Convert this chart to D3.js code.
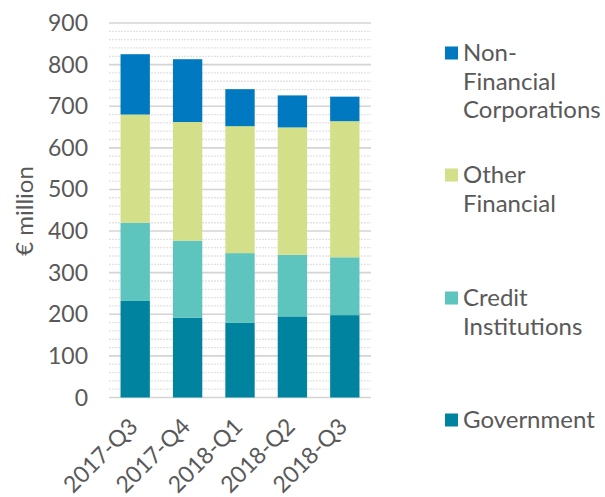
<!DOCTYPE html>
<html><head><meta charset="utf-8">
<script src="https://cdn.jsdelivr.net/npm/d3@7"></script>
<style>body{margin:0;background:#fff}svg{display:block}text{font-family:Lato,"Open Sans",sans-serif;fill:#595959}</style>
</head><body><svg id="c" width="605" height="497"></svg>
<script>
const categories = ["2017-Q3","2017-Q4","2018-Q1","2018-Q2","2018-Q3"];
const government = [232,192,180,195,198];
const creditInstitutions = [188,185,167,148,139];
const otherFinancial = [260,285,305,306,327];
const nonFinancialCorporations = [145,151,89,77,59];
const seriesNames = ["Government","Credit Institutions","Other Financial","Non-Financial Corporations"];
const legendLines = [["Non-","Financial","Corporations"],["Other","Financial"],["Credit","Institutions"],["Government"]];
const colors = ["#00839f","#5ec4be","#d4e089","#0079c1"];
const yTicks = [0,100,200,300,400,500,600,700,800,900];

const svg = d3.select("#c");
const x = d3.scaleBand().domain(categories).range([109,371]).paddingInner(0.44).paddingOuter(0.22);
const y = d3.scaleLinear().domain([0,900]).range([397.5,23]);

const minor = d3.range(0,901,20).filter(v=>v%100!==0);
svg.append("g").selectAll("line").data(minor).join("line")
  .attr("x1",109).attr("x2",371).attr("y1",d=>y(d)).attr("y2",d=>y(d))
  .attr("stroke","#e3e3e3").attr("stroke-width",1.3).attr("stroke-dasharray","2,1");
svg.append("g").selectAll("line").data(yTicks).join("line")
  .attr("x1",109).attr("x2",371).attr("y1",d=>y(d)).attr("y2",d=>y(d))
  .attr("stroke","#d4d4d4").attr("stroke-width",1.6);

const rows = categories.map((c,i)=>({cat:c,"Government":government[i],"Credit Institutions":creditInstitutions[i],"Other Financial":otherFinancial[i],"Non-Financial Corporations":nonFinancialCorporations[i]}));
const stacked = d3.stack().keys(seriesNames)(rows);
svg.append("g").selectAll("g").data(stacked).join("g").attr("fill",(d,i)=>colors[i])
  .selectAll("rect").data(d=>d).join("rect")
  .attr("x",d=>x(d.data.cat)).attr("width",x.bandwidth())
  .attr("y",d=>y(d[1])).attr("height",d=>y(d[0])-y(d[1]));

svg.append("g").selectAll("text").data(yTicks).join("text")
  .attr("x",88).attr("y",d=>y(d)).attr("dy","0.35em").attr("text-anchor","end")
  .attr("font-size",23).text(d=>d);
svg.append("text").attr("transform","translate(33,211) rotate(-90)").attr("text-anchor","middle")
  .attr("font-size",24).text("€ million");

svg.append("g").selectAll("text").data(categories).join("text")
  .attr("transform",d=>`translate(${x(d)+x.bandwidth()/2+4},${428}) rotate(-45)`)
  .attr("text-anchor","end").attr("font-size",23).text(d=>d);

const legendY = [53,175,298,420];
const lg = svg.append("g");
[3,2,1,0].forEach((si,k)=>{
  lg.append("rect").attr("x",445).attr("y",legendY[k]-6.5).attr("width",13).attr("height",13).attr("fill",colors[si]);
  legendLines[k].forEach((t,j)=>{
    lg.append("text").attr("x",463).attr("y",legendY[k]+j*28.5).attr("dy","0.35em").attr("font-size",24).text(t);
  });
});
</script></body></html>
